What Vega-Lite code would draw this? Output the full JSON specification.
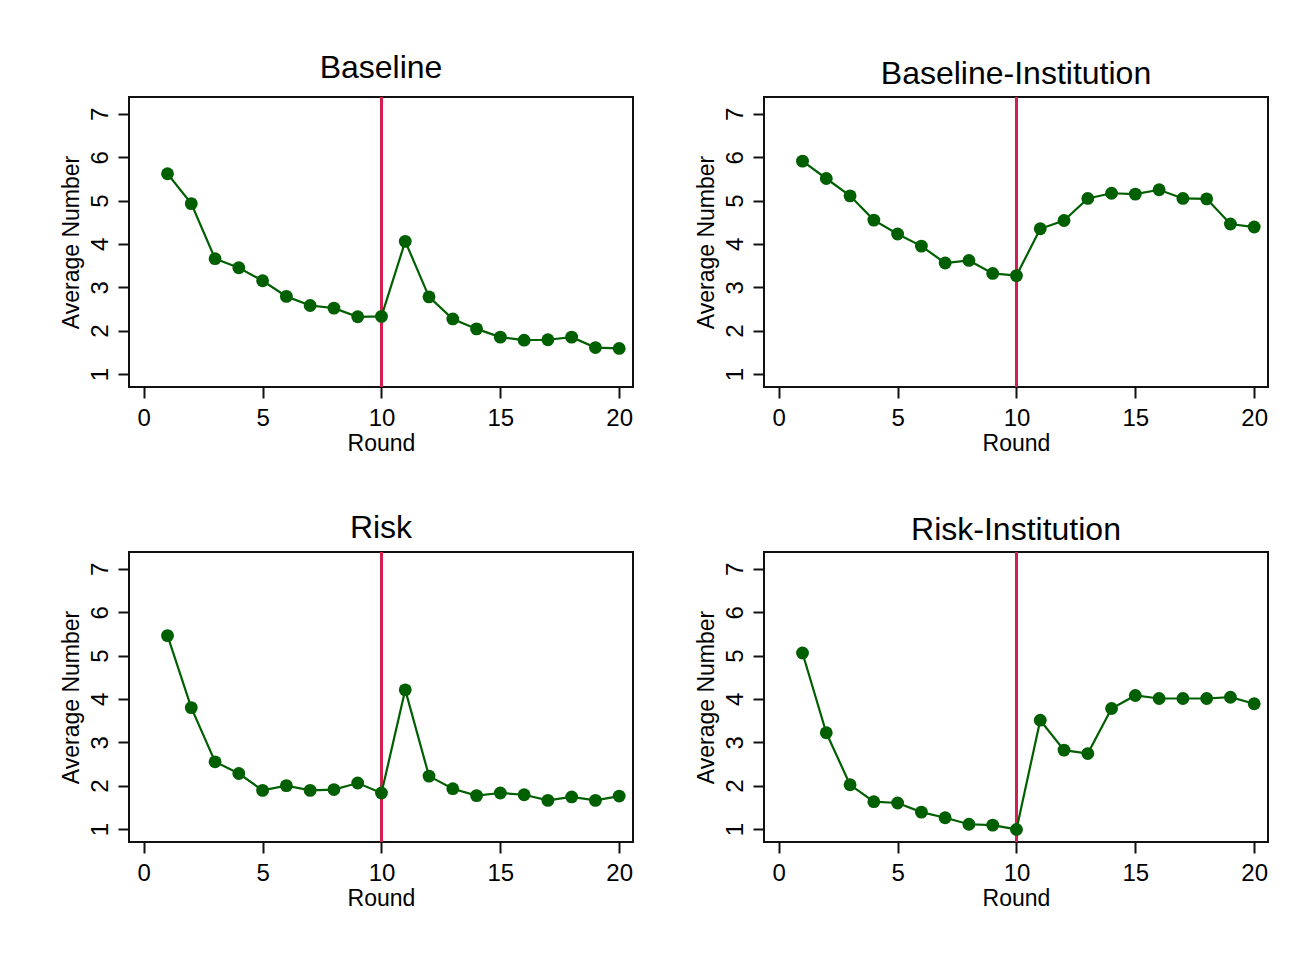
{
  "$schema": "https://vega.github.io/schema/vega-lite/v6.json",
  "background": "white",
  "padding": {"left": 59, "top": 51, "right": 5, "bottom": 5},
  "datasets": {
    "avg": [
      {"panel": "Baseline", "round": 1, "value": 5.62},
      {"panel": "Baseline", "round": 2, "value": 4.93},
      {"panel": "Baseline", "round": 3, "value": 3.66},
      {"panel": "Baseline", "round": 4, "value": 3.45},
      {"panel": "Baseline", "round": 5, "value": 3.15},
      {"panel": "Baseline", "round": 6, "value": 2.79},
      {"panel": "Baseline", "round": 7, "value": 2.58},
      {"panel": "Baseline", "round": 8, "value": 2.52},
      {"panel": "Baseline", "round": 9, "value": 2.32},
      {"panel": "Baseline", "round": 10, "value": 2.33},
      {"panel": "Baseline", "round": 11, "value": 4.06},
      {"panel": "Baseline", "round": 12, "value": 2.78},
      {"panel": "Baseline", "round": 13, "value": 2.27},
      {"panel": "Baseline", "round": 14, "value": 2.04},
      {"panel": "Baseline", "round": 15, "value": 1.85},
      {"panel": "Baseline", "round": 16, "value": 1.78},
      {"panel": "Baseline", "round": 17, "value": 1.79},
      {"panel": "Baseline", "round": 18, "value": 1.85},
      {"panel": "Baseline", "round": 19, "value": 1.61},
      {"panel": "Baseline", "round": 20, "value": 1.59},
      {"panel": "Baseline-Institution", "round": 1, "value": 5.91},
      {"panel": "Baseline-Institution", "round": 2, "value": 5.51},
      {"panel": "Baseline-Institution", "round": 3, "value": 5.11},
      {"panel": "Baseline-Institution", "round": 4, "value": 4.55},
      {"panel": "Baseline-Institution", "round": 5, "value": 4.23},
      {"panel": "Baseline-Institution", "round": 6, "value": 3.95},
      {"panel": "Baseline-Institution", "round": 7, "value": 3.56},
      {"panel": "Baseline-Institution", "round": 8, "value": 3.62},
      {"panel": "Baseline-Institution", "round": 9, "value": 3.32},
      {"panel": "Baseline-Institution", "round": 10, "value": 3.27},
      {"panel": "Baseline-Institution", "round": 11, "value": 4.35},
      {"panel": "Baseline-Institution", "round": 12, "value": 4.54},
      {"panel": "Baseline-Institution", "round": 13, "value": 5.05},
      {"panel": "Baseline-Institution", "round": 14, "value": 5.17},
      {"panel": "Baseline-Institution", "round": 15, "value": 5.15},
      {"panel": "Baseline-Institution", "round": 16, "value": 5.25},
      {"panel": "Baseline-Institution", "round": 17, "value": 5.05},
      {"panel": "Baseline-Institution", "round": 18, "value": 5.04},
      {"panel": "Baseline-Institution", "round": 19, "value": 4.46},
      {"panel": "Baseline-Institution", "round": 20, "value": 4.39},
      {"panel": "Risk", "round": 1, "value": 5.46},
      {"panel": "Risk", "round": 2, "value": 3.80},
      {"panel": "Risk", "round": 3, "value": 2.55},
      {"panel": "Risk", "round": 4, "value": 2.28},
      {"panel": "Risk", "round": 5, "value": 1.89},
      {"panel": "Risk", "round": 6, "value": 2.00},
      {"panel": "Risk", "round": 7, "value": 1.89},
      {"panel": "Risk", "round": 8, "value": 1.91},
      {"panel": "Risk", "round": 9, "value": 2.06},
      {"panel": "Risk", "round": 10, "value": 1.83},
      {"panel": "Risk", "round": 11, "value": 4.21},
      {"panel": "Risk", "round": 12, "value": 2.22},
      {"panel": "Risk", "round": 13, "value": 1.93},
      {"panel": "Risk", "round": 14, "value": 1.77},
      {"panel": "Risk", "round": 15, "value": 1.83},
      {"panel": "Risk", "round": 16, "value": 1.79},
      {"panel": "Risk", "round": 17, "value": 1.66},
      {"panel": "Risk", "round": 18, "value": 1.74},
      {"panel": "Risk", "round": 19, "value": 1.66},
      {"panel": "Risk", "round": 20, "value": 1.76},
      {"panel": "Risk-Institution", "round": 1, "value": 5.06},
      {"panel": "Risk-Institution", "round": 2, "value": 3.22},
      {"panel": "Risk-Institution", "round": 3, "value": 2.02},
      {"panel": "Risk-Institution", "round": 4, "value": 1.63},
      {"panel": "Risk-Institution", "round": 5, "value": 1.60},
      {"panel": "Risk-Institution", "round": 6, "value": 1.39},
      {"panel": "Risk-Institution", "round": 7, "value": 1.26},
      {"panel": "Risk-Institution", "round": 8, "value": 1.11},
      {"panel": "Risk-Institution", "round": 9, "value": 1.09},
      {"panel": "Risk-Institution", "round": 10, "value": 0.99},
      {"panel": "Risk-Institution", "round": 11, "value": 3.51},
      {"panel": "Risk-Institution", "round": 12, "value": 2.82},
      {"panel": "Risk-Institution", "round": 13, "value": 2.74},
      {"panel": "Risk-Institution", "round": 14, "value": 3.78},
      {"panel": "Risk-Institution", "round": 15, "value": 4.08},
      {"panel": "Risk-Institution", "round": 16, "value": 4.01},
      {"panel": "Risk-Institution", "round": 17, "value": 4.01},
      {"panel": "Risk-Institution", "round": 18, "value": 4.01},
      {"panel": "Risk-Institution", "round": 19, "value": 4.04},
      {"panel": "Risk-Institution", "round": 20, "value": 3.89}
    ]
  },
  "config": {
    "font": "Liberation Sans",
    "view": {"stroke": "#111", "strokeWidth": 2},
    "axis": {
      "grid": false,
      "domain": false,
      "tickColor": "#111",
      "tickWidth": 2,
      "tickSize": 11,
      "labelColor": "#000",
      "titleColor": "#000",
      "labelFont": "Liberation Sans",
      "titleFont": "Liberation Sans",
      "labelFontSize": 24,
      "titleFontSize": 23,
      "titleFontWeight": "normal"
    },
    "title": {"font": "Liberation Sans", "fontSize": 32, "fontWeight": "normal", "color": "#000", "baseline": "alphabetic", "anchor": "middle"}
  },
  "columns": 2,
  "bounds": "flush",
  "spacing": {"column": 131, "row": 165},
  "concat": [
    {
      "title": {"text": "Baseline", "offset": 11},
      "width": 504, "height": 290,
      "transform": [{"filter": "datum.panel === 'Baseline'"}],
      "data": {"name": "avg"},
      "layer": [
        {"mark": {"type": "rule", "color": "#D3204F", "strokeWidth": 2}, "encoding": {"x": {"datum": 10, "type": "quantitative"}}},
        {"mark": {"type": "line", "color": "#005F00", "strokeWidth": 2.2, "point": {"filled": true, "size": 165, "color": "#005F00", "opacity": 1}},
         "encoding": {
           "x": {"field": "round", "type": "quantitative", "scale": {"domain": [-0.62, 20.58], "nice": false, "zero": false}, "axis": {"values": [0, 5, 10, 15, 20], "title": "Round", "labelPadding": 8, "titlePadding": 2}},
           "y": {"field": "value", "type": "quantitative", "scale": {"domain": [0.7, 7.39], "nice": false, "zero": false}, "axis": {"values": [1, 2, 3, 4, 5, 6, 7], "title": "Average Number", "labelAngle": -90, "labelAlign": "center", "labelBaseline": "bottom", "labelPadding": 6, "titlePadding": 5}}
         }}
      ]
    },
    {
      "title": {"text": "Baseline-Institution", "offset": 5},
      "width": 504, "height": 290,
      "transform": [{"filter": "datum.panel === 'Baseline-Institution'"}],
      "data": {"name": "avg"},
      "layer": [
        {"mark": {"type": "rule", "color": "#D3204F", "strokeWidth": 2}, "encoding": {"x": {"datum": 10, "type": "quantitative"}}},
        {"mark": {"type": "line", "color": "#005F00", "strokeWidth": 2.2, "point": {"filled": true, "size": 165, "color": "#005F00", "opacity": 1}},
         "encoding": {
           "x": {"field": "round", "type": "quantitative", "scale": {"domain": [-0.62, 20.58], "nice": false, "zero": false}, "axis": {"values": [0, 5, 10, 15, 20], "title": "Round", "labelPadding": 8, "titlePadding": 2}},
           "y": {"field": "value", "type": "quantitative", "scale": {"domain": [0.7, 7.39], "nice": false, "zero": false}, "axis": {"values": [1, 2, 3, 4, 5, 6, 7], "title": "Average Number", "labelAngle": -90, "labelAlign": "center", "labelBaseline": "bottom", "labelPadding": 6, "titlePadding": 5}}
         }}
      ]
    },
    {
      "title": {"text": "Risk", "offset": 6},
      "width": 504, "height": 290,
      "transform": [{"filter": "datum.panel === 'Risk'"}],
      "data": {"name": "avg"},
      "layer": [
        {"mark": {"type": "rule", "color": "#D3204F", "strokeWidth": 2}, "encoding": {"x": {"datum": 10, "type": "quantitative"}}},
        {"mark": {"type": "line", "color": "#005F00", "strokeWidth": 2.2, "point": {"filled": true, "size": 165, "color": "#005F00", "opacity": 1}},
         "encoding": {
           "x": {"field": "round", "type": "quantitative", "scale": {"domain": [-0.62, 20.58], "nice": false, "zero": false}, "axis": {"values": [0, 5, 10, 15, 20], "title": "Round", "labelPadding": 8, "titlePadding": 2}},
           "y": {"field": "value", "type": "quantitative", "scale": {"domain": [0.7, 7.39], "nice": false, "zero": false}, "axis": {"values": [1, 2, 3, 4, 5, 6, 7], "title": "Average Number", "labelAngle": -90, "labelAlign": "center", "labelBaseline": "bottom", "labelPadding": 6, "titlePadding": 5}}
         }}
      ]
    },
    {
      "title": {"text": "Risk-Institution", "offset": 4},
      "width": 504, "height": 290,
      "transform": [{"filter": "datum.panel === 'Risk-Institution'"}],
      "data": {"name": "avg"},
      "layer": [
        {"mark": {"type": "rule", "color": "#D3204F", "strokeWidth": 2}, "encoding": {"x": {"datum": 10, "type": "quantitative"}}},
        {"mark": {"type": "line", "color": "#005F00", "strokeWidth": 2.2, "point": {"filled": true, "size": 165, "color": "#005F00", "opacity": 1}},
         "encoding": {
           "x": {"field": "round", "type": "quantitative", "scale": {"domain": [-0.62, 20.58], "nice": false, "zero": false}, "axis": {"values": [0, 5, 10, 15, 20], "title": "Round", "labelPadding": 8, "titlePadding": 2}},
           "y": {"field": "value", "type": "quantitative", "scale": {"domain": [0.7, 7.39], "nice": false, "zero": false}, "axis": {"values": [1, 2, 3, 4, 5, 6, 7], "title": "Average Number", "labelAngle": -90, "labelAlign": "center", "labelBaseline": "bottom", "labelPadding": 6, "titlePadding": 5}}
         }}
      ]
    }
  ]
}
